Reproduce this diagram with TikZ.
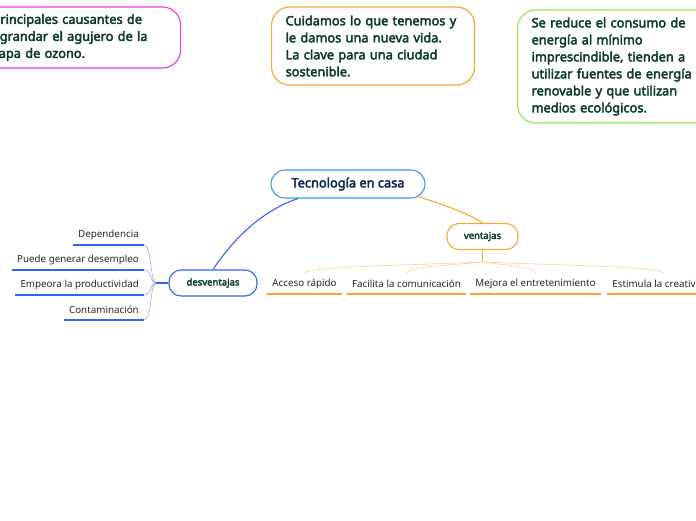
\documentclass[tikz,border=0pt]{standalone}
\usepackage{fontspec}
\setmainfont{Noto Sans}[BoldFont={Noto Sans},BoldFeatures={FakeBold=3}]
\usepackage{tikz}
\usetikzlibrary{calc}
\definecolor{txtgreen}{RGB}{11,61,43}
\definecolor{navy}{RGB}{16,36,80}
\definecolor{magent}{RGB}{236,60,236}
\definecolor{amber}{RGB}{250,168,45}
\definecolor{lime}{RGB}{150,232,80}
\definecolor{skyblue}{RGB}{70,150,220}
\definecolor{royal}{RGB}{50,100,240}

\begin{document}
\begin{tikzpicture}[x=1pt,y=-1pt,
          note/.style={draw=#1,line width=1.2pt,rounded corners=18pt,fill=white,
                       font=\fontsize{12.8}{17}\selectfont\bfseries,text=txtgreen,
                       align=left,inner xsep=14pt,inner ysep=0pt,anchor=west},
          root/.style={draw=skyblue,line width=1.1pt,rounded corners=14pt,
                       minimum width=154pt,minimum height=28pt,
                       font=\fontsize{12.8}{15}\selectfont\bfseries,text=navy},
          topic/.style={draw=#1,line width=1.1pt,rounded corners=12pt,
                        minimum height=26pt,inner xsep=12pt,
                        font=\fontsize{9.5}{11}\selectfont\bfseries,text=txtgreen},
          leaf/.style={minimum height=20pt,inner xsep=5pt,inner ysep=0pt,
                       font=\fontsize{9.8}{11}\selectfont,text=black!85},
          uline/.style={draw=#1,line width=1.5pt},
          link/.style={draw=#1,line width=1.1pt},
          fan/.style={draw=#1!55,line width=0.6pt}
        ]
        \useasboundingbox (0,0) rectangle (696,520);
        % notes
        \node[note=magent,minimum height=61pt,text width=174pt] (ozono) at (-22,37.5)
          {Principales causantes de\\agrandar el agujero de la\\capa de ozono.};
        \node[note=amber,minimum height=78pt,text width=175pt] (vida) at (271,46)
          {Cuidamos lo que tenemos y\\le damos una nueva vida.\\La clave para una ciudad\\sostenible.};
        \node[note=lime,minimum height=113pt,text width=190pt] (energia) at (517,66.5)
          {Se reduce el consumo de\\energía al mínimo\\imprescindible, tienden a\\utilizar fuentes de energía\\renovable y que utilizan\\medios ecológicos.};
        % main topics
        \node[root] (casa) at (348,184) {Tecnología en casa};
        \node[topic=royal,minimum width=88pt] (desv) at (213,283) {desventajas};
        \node[topic=amber,minimum width=71pt] (vent) at (482.5,236.5) {ventajas};
        \draw[link=royal] ($(casa.south)+(-50,0)$) .. controls (258,212) and (230,244) .. (desv.north);
        \draw[link=amber] ($(casa.south)+(70,-2)$) .. controls (445,205) and (472,215) .. (vent.north);
        % ventajas
        \node[leaf] (acceso)  at (304.5,284) {Acceso rápido};
        \node[leaf] (facil)   at (406.5,284) {Facilita la comunicación};
        \node[leaf] (mejora)  at (535.5,284) {Mejora el entretenimiento};
        \node[leaf] (estim)   at (664,284) {Estimula la creatividad};
        \coordinate (vj) at (482.5,262);
        \draw[link=amber] (vent.south) -- (vj);
        \foreach \c in {acceso,facil,mejora,estim}{
          \draw[uline=amber] (\c.south west) -- (\c.south east);
          \draw[fan=amber] (vj) .. controls ($(vj)!0.55!(\c.north |- vj)+(0,4)$) and ($(\c.north)+(0,-7)$) .. (\c.north);
        }
        % desventajas
        \node[leaf,anchor=south east] (dep)   at (144,245) {Dependencia};
        \node[leaf,anchor=south east] (desem) at (144,270) {Puede generar desempleo};
        \node[leaf,anchor=south east] (prod)  at (144,295) {Empeora la productividad};
        \node[leaf,anchor=south east] (cont)  at (144,320) {Contaminación};
        \coordinate (dj) at (156,283);
        \draw[link=royal] (desv.west) -- (dj);
        \foreach \c in {dep,desem,prod,cont}{
          \draw[uline=royal] (\c.south west) -- (\c.south east);
          \draw[fan=royal] (dj) .. controls ($(dj)+(-6,0)$) and ($(\c.south east)+(8,0)$) .. (\c.south east);
        }
      \end{tikzpicture}
\end{document}
